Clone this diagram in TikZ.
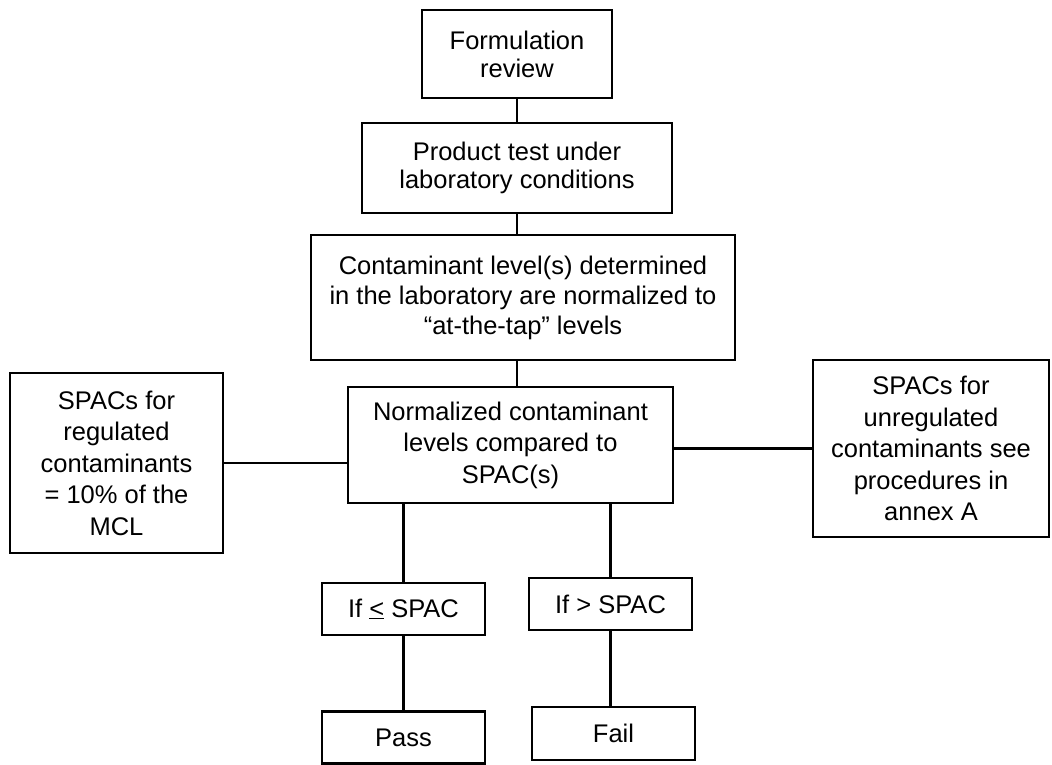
\documentclass[tikz,border=0pt]{standalone}
\usepackage{fontspec}
\setmainfont{Liberation Sans}
\begin{document}
\begin{tikzpicture}[x=1pt,y=-1pt,
  box/.style={draw=black, line width=2.2pt, inner sep=0pt, align=center,
    font=\fontsize{25.5}{30}\selectfont},
  conn/.style={draw=black, line width=2.2pt}]
\fill[white] (0,0) rectangle (1052,764);
\useasboundingbox (0,0) rectangle (1052,764);
\clip (0,0) rectangle (1052,764);
\node[box, minimum width=190pt, minimum height=88pt, font=\fontsize{25.5}{28}\selectfont] (f1) at (517,54) {Formulation\\review};
\node[box, minimum width=310pt, minimum height=90pt, font=\fontsize{25.5}{28}\selectfont] (f2) at (517,168) {Product test under\\laboratory conditions};
\node[box, minimum width=424pt, minimum height=125pt] (f3) at (523,297.5) {Contaminant level(s) determined\\in the laboratory are normalized to\\``at-the-tap'' levels};
\node[box, minimum width=325pt, minimum height=116pt, font=\fontsize{25.5}{31.5}\selectfont] (cmp) at (510.5,445) {Normalized contaminant\\levels compared to\\SPAC(s)};
\node[box, minimum width=213pt, minimum height=180pt, font=\fontsize{25.5}{31.5}\selectfont] (lft) at (116.5,463) {SPACs for\\regulated\\contaminants\\= 10\% of the\\MCL};
\node[box, minimum width=236pt, minimum height=177pt, font=\fontsize{25.5}{31.5}\selectfont] (rgt) at (931,448.5) {SPACs for\\unregulated\\contaminants see\\procedures in\\annex A};
\node[box, minimum width=163pt, minimum height=52pt] (if1) at (403.5,609) {If \underline{<} SPAC};
\node[box, minimum width=163pt, minimum height=52pt] (if2) at (610.5,604) {If > SPAC};
\node[box, minimum width=163pt, minimum height=52pt] (pass) at (403.5,737.5) {Pass};
\node[box, minimum width=163pt, minimum height=53pt] (fail) at (613.5,733.5) {Fail};
\draw[conn] (f1.south) -- (f2.north);
\draw[conn] (f2.south) -- (f2.south |- f3.north);
\draw[conn] (f2.south |- f3.south) -- (f2.south |- cmp.north);
\draw[conn] (lft.east) -- (lft.east -| cmp.west);
\draw[conn] (rgt.west) -- (rgt.west -| cmp.east);
\draw[conn] (if1.north |- cmp.south) -- (if1.north);
\draw[conn] (if2.north |- cmp.south) -- (if2.north);
\draw[conn] (if1.south) -- (pass.north);
\draw[conn] (if2.south) -- (if2.south |- fail.north);
\end{tikzpicture}
\end{document}
